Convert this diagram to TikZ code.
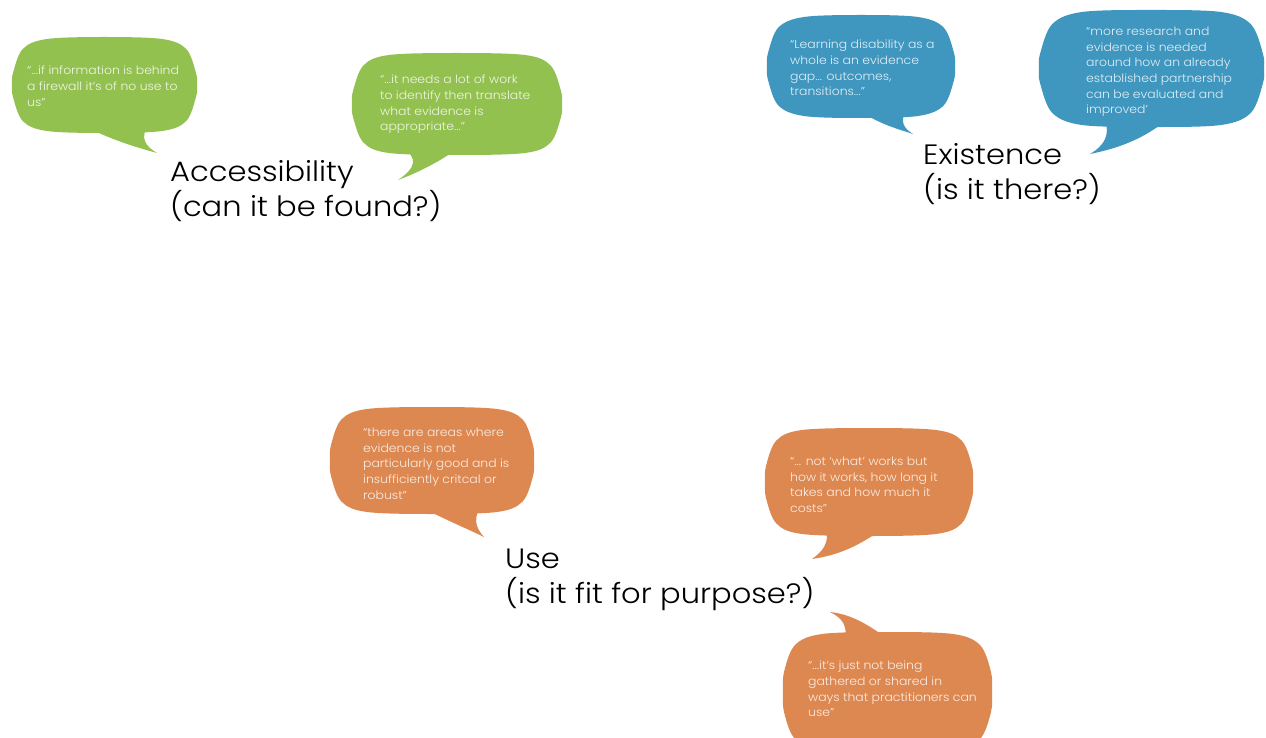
\documentclass[tikz,border=0pt]{standalone}
\usepackage{fontspec}
\setmainfont{Poppins}[UprightFont=* Light]
\newfontfamily\quotefont{Poppins}[UprightFont=* Light,FakeStretch=1.08]
\newfontfamily\labelfont{Poppins}[UprightFont=* Light,FakeStretch=1.09]
% speech-bubble body: a smooth rounded blob through points round a box
% #1 style, #2 left, #3 top, #4 right, #5 bottom, #6 corner radius
\newcommand\bubblebody[6]{%
  \pgfmathsetmacro\bmx{(#2+#4)/2}%
  \pgfmathsetmacro\bmy{(#3+#5)/2}%
  \pgfmathsetmacro\bd{0.29*#6}%
  \fill[#1] plot[smooth cycle,tension=0.55] coordinates {
    (#2+#6,#3) (\bmx,#3-2) (#4-#6,#3) (#4-\bd,#3+\bd)
    (#4,#3+#6) (#4+1,\bmy) (#4,#5-#6) (#4-\bd,#5-\bd)
    (#4-#6,#5) (\bmx,#5+2) (#2+#6,#5) (#2+\bd,#5-\bd)
    (#2,#5-#6) (#2-1,\bmy) (#2,#3+#6) (#2+\bd,#3+\bd)};}
\begin{document}
\begin{tikzpicture}[x=1pt,y=-1pt,
  greenfill/.style={fill=bubgreen},
  bluefill/.style={fill=bubblue},
  orangefill/.style={fill=buborange},
  quote/.style={anchor=north west,inner sep=0pt,align=left,text=white,text opacity=0.85,
    font=\quotefont\fontsize{11.5}{15.6}\selectfont},
  heading/.style={anchor=north west,inner sep=0pt,align=left,text=black,
    font=\labelfont\fontsize{28}{35}\selectfont}]
\definecolor{bubgreen}{HTML}{93C150}
\definecolor{bubblue}{HTML}{3F96BF}
\definecolor{buborange}{HTML}{DE8851}
\useasboundingbox[fill=white] (0,0) rectangle (1266,738);

% Accessibility: two green speech bubbles
\bubblebody{greenfill}{13}{39}{196}{131}{34}
\fill[greenfill] (84,126) .. controls (112,140) and (135,147) .. (157,153)
  .. controls (145,146) and (140,138) .. (148,125) -- cycle;
\node[quote] (q1) at (27,66) {“...if information is behind\\a firewall it’s of no use to\\us”};

\bubblebody{greenfill}{353}{55}{561}{153}{36}
\fill[greenfill] (403,148) .. controls (418,158) and (416,168) .. (398,180)
  .. controls (422,171) and (442,160) .. (460,147) -- cycle;
\node[quote] (q2) at (380,75) {“...it needs a lot of work\\to identify then translate\\what evidence is\\appropriate...”};

\node[heading] (access) at (170,160) {Accessibility\\(can it be found?)};

% Existence: two blue speech bubbles
\bubblebody{bluefill}{768}{17}{954}{116}{36}
\fill[bluefill] (856,110) .. controls (885,125) .. (913,134)
  .. controls (903,128) and (900,121) .. (906,110) -- cycle;
\node[quote] (q3) at (790,40) {“Learning disability as a\\whole is an evidence\\gap... outcomes,\\transitions...”};

\bubblebody{bluefill}{1040}{12}{1263}{125}{42}
\fill[bluefill] (1105,119) .. controls (1110,135) and (1105,145) .. (1090,154)
  .. controls (1120,148) and (1145,138) .. (1168,119) -- cycle;
\node[quote] (q4) at (1086,27) {“more research and\\evidence is needed\\around how an already\\established partnership\\can be evaluated and\\improved’};

\node[heading] (exist) at (923,143) {Existence\\(is it there?)};

% Use: three orange speech bubbles
\bubblebody{orangefill}{331}{409}{533}{512}{36}
\fill[orangefill] (421,507) .. controls (450,522) and (470,530) .. (484,537)
  .. controls (478,530) and (472,522) .. (480,507) -- cycle;
\node[quote] (q5) at (363,428) {“there are areas where\\evidence is not\\particularly good and is\\insufficiently critcal or\\robust”};

\bubblebody{orangefill}{766}{430}{972}{534}{36}
\fill[orangefill] (826,528) .. controls (830,543) and (822,552) .. (812,559)
  .. controls (840,555) and (860,545) .. (884,528) -- cycle;
\node[quote] (q6) at (790,457) {“... not ‘what’ works but\\how it works, how long it\\takes and how much it\\costs”};

\bubblebody{orangefill}{784}{634}{991}{750}{38}
\fill[orangefill] (845,642) .. controls (848,625) and (842,618) .. (830,612)
  .. controls (850,614) and (868,624) .. (889,640) -- cycle;
\node[quote] (q7) at (808,661) {“...it’s just not being\\gathered or shared in\\ways that practitioners can\\use”};

\node[heading] (use) at (505,549) {Use\\(is it fit for purpose?)};
\end{tikzpicture}
\end{document}
